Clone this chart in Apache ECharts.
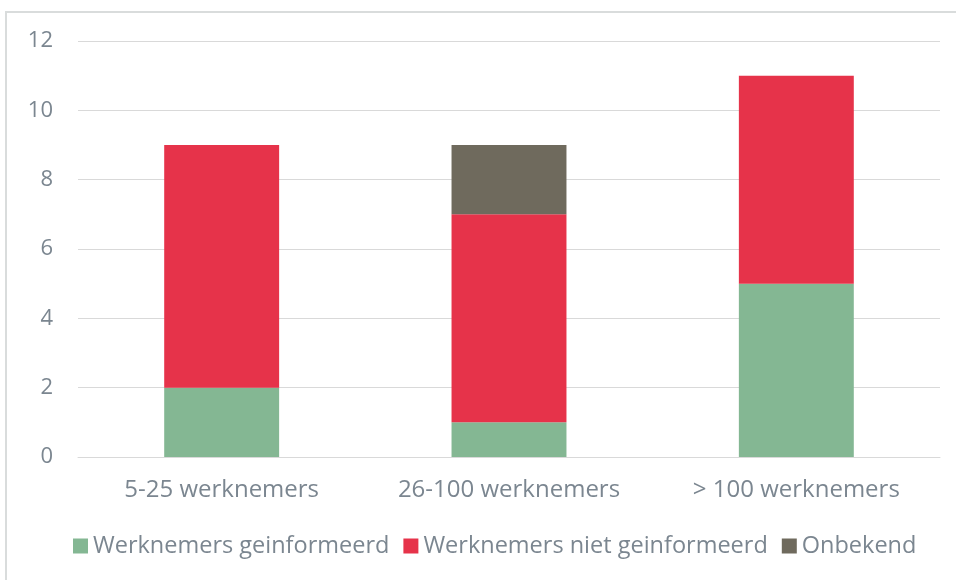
<!DOCTYPE html>
<html>
<head>
<meta charset="utf-8">
<script src="https://cdn.jsdelivr.net/npm/echarts@6/dist/echarts.min.js"></script>
<style>
  html, body { margin: 0; padding: 0; background: #fff; }
  #frame { position: absolute; left: 5px; top: 11px; width: 960px; height: 580px; border: 2px solid #d9dcdc; box-sizing: border-box; }
  #chart { position: absolute; left: 0; top: 0; width: 956px; height: 580px; }
</style>
</head>
<body>
<div id="frame"></div>
<div id="chart"></div>
<script>
const categories = ['5-25 werknemers', '26-100 werknemers', '> 100 werknemers']
const geinformeerd = [2, 1, 5]
const nietGeinformeerd = [7, 6, 6]
const onbekend = [0, 2, 0]

let myChart = echarts.init(document.getElementById('chart'))
const txt = '#7b8690'
let options = {
    textStyle: { fontFamily: 'Open Sans' },
    animation: false,
    grid: { left: 78, right: 16, top: 41, bottom: 123 },
    legend: {
        bottom: 17,
        left: 68,
        itemWidth: 15,
        itemHeight: 15,
        itemGap: 14,
        icon: 'rect',
        textStyle: { color: txt, fontSize: 23.5, padding: [0, 0, 0, 0] },
        data: ['Werknemers geinformeerd', 'Werknemers niet geinformeerd', 'Onbekend']
    },
    xAxis: {
        type: 'category',
        data: categories,
        axisLine: { lineStyle: { color: '#d9d9d9', width: 1 } },
        axisTick: { show: false },
        axisLabel: { color: txt, fontSize: 24, margin: 21, interval: 0, hideOverlap: false }
    },
    yAxis: {
        type: 'value',
        min: 0, max: 12, interval: 2,
        axisLine: { show: false },
        axisTick: { show: false },
        splitLine: { lineStyle: { color: '#d9d9d9', width: 1 } },
        axisLabel: { color: txt, fontSize: 22, margin: 25 }
    },
    series: [
        { name: 'Werknemers geinformeerd', type: 'bar', stack: 'one', data: geinformeerd, barWidth: '40%', itemStyle: { color: '#84b793' } },
        { name: 'Werknemers niet geinformeerd', type: 'bar', stack: 'one', data: nietGeinformeerd, barWidth: '40%', itemStyle: { color: '#e6334a' } },
        { name: 'Onbekend', type: 'bar', stack: 'one', data: onbekend, barWidth: '40%', itemStyle: { color: '#6f6a5d' } }
    ]
}
myChart.setOption(options)
</script>
</body>
</html>
